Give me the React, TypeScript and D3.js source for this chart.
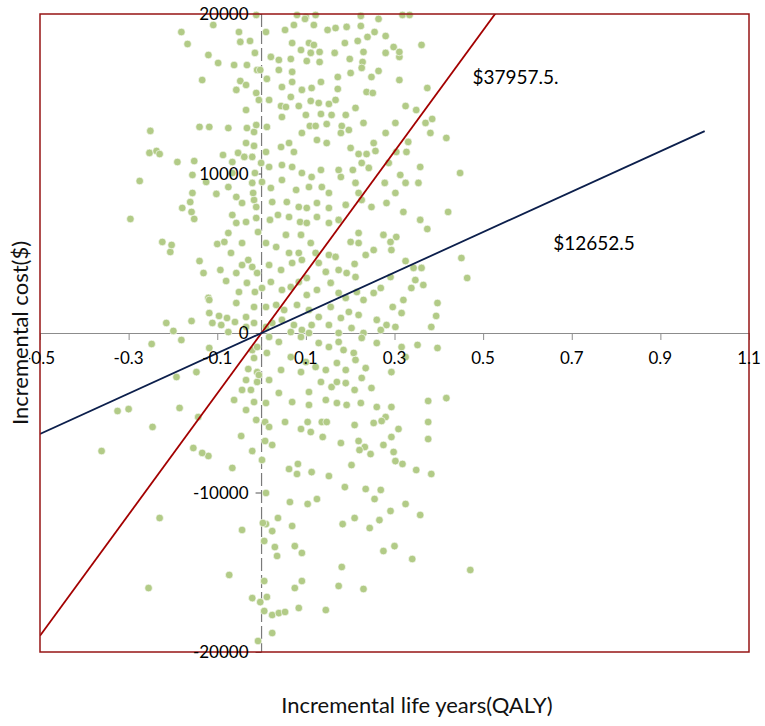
import { useEffect, useRef } from "react"
import * as d3 from "d3"

type Pt = [number, number] // [incremental QALY, incremental cost $]

const northEast: Pt[] = [
  [0.080, 19940], [0.100, 19810], [0.122, 19940], [0.224, 19880], [0.318, 19940], [0.334, 19940],
  [0.010, 18870], [0.053, 19000], [0.073, 19310], [0.098, 19690], [0.118, 19310], [0.149, 19000], [0.167, 19120],
  [0.192, 19190], [0.224, 19250], [0.264, 19690], [0.255, 18870], [0.239, 18560], [0.280, 18620],
  [0.021, 17310], [0.039, 17120], [0.066, 17180], [0.069, 18180], [0.089, 17740], [0.107, 18180], [0.118, 18060],
  [0.111, 17560], [0.102, 17050], [0.131, 17620], [0.131, 16990], [0.165, 17560], [0.188, 18180], [0.217, 18310],
  [0.230, 17620], [0.199, 17180], [0.228, 16990], [0.280, 17560], [0.298, 17930], [0.311, 17310], [0.361, 18060],
  [0.311, 17620],
  [0.012, 15930], [0.039, 16490], [0.069, 16370], [0.069, 15740], [0.046, 15420], [0.091, 15240], [0.113, 15360],
  [0.134, 15740], [0.172, 16050], [0.172, 15300], [0.201, 16300], [0.226, 16620], [0.248, 16050], [0.264, 16430],
  [0.311, 15860], [0.237, 15110], [0.251, 15050], [0.374, 15360],
  [0.017, 14610], [0.044, 14230], [0.066, 14800], [0.055, 14170], [0.084, 14230], [0.111, 14550], [0.129, 14420],
  [0.152, 14360], [0.167, 14610], [0.212, 14110], [0.158, 13670], [0.190, 13670], [0.325, 14230], [0.349, 13980],
  [0.012, 12920], [0.046, 13540], [0.100, 13670], [0.134, 13730], [0.109, 12980], [0.122, 12980], [0.147, 13100],
  [0.181, 12980], [0.197, 12730], [0.230, 13170], [0.302, 13170], [0.280, 12540], [0.370, 13170], [0.385, 13420],
  [0.381, 12540], [0.417, 12230],
  [0.010, 11350], [0.044, 11660], [0.062, 11910], [0.073, 11350], [0.091, 12540], [0.125, 12100], [0.147, 11910],
  [0.179, 12540], [0.201, 11600], [0.219, 11220], [0.237, 11220], [0.257, 11410], [0.253, 11910], [0.304, 11350],
  [0.327, 11350], [0.331, 11980], [0.358, 10410], [0.448, 10030],
  [0.017, 10410], [0.046, 10530], [0.069, 10410], [0.091, 10030], [0.113, 9780], [0.134, 10220], [0.174, 10220],
  [0.206, 10220], [0.226, 10660], [0.242, 10350], [0.287, 10660], [0.278, 9410], [0.313, 9910], [0.354, 9410],
  [0.325, 9410], [0.302, 8780],
  [0.001, 9470], [0.021, 9090], [0.046, 9590], [0.078, 8970], [0.107, 9150], [0.136, 9150], [0.152, 8780],
  [0.179, 9780], [0.212, 9410], [0.226, 8340], [0.248, 7900], [0.282, 8150], [0.320, 7590], [0.358, 7090],
  [0.421, 7590],
  [0.024, 8210], [0.057, 8210], [0.084, 7900], [0.102, 7840], [0.125, 8150], [0.152, 7840], [0.190, 8030],
  [0.219, 8780],
  [0.019, 7090], [0.037, 7400], [0.062, 7270], [0.087, 6960], [0.102, 6900], [0.125, 7270], [0.152, 6900],
  [0.174, 7090], [0.219, 6270], [0.201, 5710], [0.219, 5640], [0.275, 6150], [0.304, 6020], [0.374, 6520],
  [0.010, 5640], [0.033, 5390], [0.055, 6150], [0.062, 5020], [0.089, 6150], [0.084, 5020], [0.111, 5640],
  [0.122, 5020], [0.152, 4890], [0.167, 4770], [0.253, 5200], [0.235, 4890], [0.293, 5200], [0.291, 5710],
  [0.325, 4510], [0.451, 4700], [0.464, 3450],
  [0.017, 4260], [0.044, 3950], [0.069, 4390], [0.091, 4580], [0.102, 3450], [0.129, 4390], [0.145, 3830],
  [0.174, 3950], [0.192, 3760], [0.210, 4330], [0.212, 3510], [0.291, 3510], [0.343, 4080], [0.361, 4080],
  [0.347, 3320], [0.365, 3010], [0.338, 2820],
  [0.001, 2820], [0.021, 3200], [0.046, 2700], [0.066, 2880], [0.084, 3200], [0.102, 2380], [0.125, 2700],
  [0.156, 3140], [0.174, 2510], [0.190, 2200], [0.215, 2570], [0.230, 2070], [0.253, 2510], [0.269, 2820],
  [0.320, 2070], [0.397, 1880], [0.394, 1070],
  [0.010, 1630], [0.033, 1760], [0.051, 1440], [0.080, 1760], [0.107, 1440], [0.129, 1000], [0.156, 1630],
  [0.179, 940], [0.197, 1320], [0.219, 1130], [0.260, 820], [0.296, 1630], [0.316, 1250], [0.282, 500],
  [0.269, 190], [0.302, 380], [0.383, 380],
  [0.010, 380], [0.024, 630], [0.046, 820], [0.073, 500], [0.091, 190], [0.113, 500], [0.152, 500],
  [0.174, 0], [0.203, 310], [0.230, 0], [0.066, 60], [0.107, 0],
]

const northWest: Pt[] = [
  [-0.012, 19940], [-0.181, 18870], [-0.167, 18120], [-0.109, 19310], [-0.120, 17430], [-0.098, 16930],
  [-0.062, 16800], [-0.033, 16800], [-0.051, 18870], [-0.048, 18250], [-0.026, 18310], [-0.015, 17560],
  [-0.134, 15860], [-0.048, 15800], [-0.035, 15550], [-0.057, 15240], [-0.012, 15050], [-0.010, 16490],
  [-0.003, 16490], [-0.006, 14610], [-0.035, 13980], [-0.140, 12920], [-0.118, 12920], [-0.075, 12850],
  [-0.033, 12850], [-0.017, 12600], [-0.012, 13040], [-0.251, 12670], [-0.253, 11290], [-0.237, 11410],
  [-0.230, 11220], [-0.190, 10720], [-0.152, 10780], [-0.087, 11160], [-0.066, 10720], [-0.053, 11290],
  [-0.035, 11910], [-0.017, 11730], [-0.039, 11040], [-0.021, 11040], [-0.001, 10660], [-0.275, 9530],
  [-0.156, 9910], [-0.125, 9470], [-0.102, 8720], [-0.075, 9150], [-0.057, 8530], [-0.021, 9410],
  [-0.017, 8340], [-0.156, 8780], [-0.066, 10030], [-0.015, 10030], [-0.019, 8780],
  [-0.296, 7150], [-0.224, 5710], [-0.206, 5080], [-0.203, 5520], [-0.179, 7840], [-0.158, 7590],
  [-0.152, 7150], [-0.161, 8210], [-0.140, 4510], [-0.131, 3760], [-0.120, 2200], [-0.100, 5580],
  [-0.084, 5710], [-0.093, 3950], [-0.080, 3260], [-0.075, 6270], [-0.069, 5020], [-0.066, 7400],
  [-0.057, 6900], [-0.044, 5640], [-0.035, 6960], [-0.057, 3760], [-0.051, 2570], [-0.030, 4580],
  [-0.033, 3140], [-0.021, 4140], [-0.015, 2570], [-0.044, 8150], [-0.012, 7900], [-0.008, 6330],
  [-0.012, 7210], [-0.010, 3760], [-0.044, 4260], [-0.017, 1630],
  [-0.215, 630], [-0.158, 750], [-0.199, 130], [-0.118, 1250], [-0.096, 1070], [-0.078, 940],
  [-0.057, 1880], [-0.111, 630], [-0.091, 500], [-0.075, 60], [-0.060, 690], [-0.035, 1000],
  [-0.017, 630], [-0.035, 380], [-0.118, 2070],
]

const southEast: Pt[] = [
  [0.017, -250], [0.039, -560], [0.089, -250], [0.129, -630], [0.152, -880], [0.174, -560], [0.185, -1070],
  [0.208, -1250], [0.226, -310], [0.260, -630], [0.316, -880], [0.352, -750], [0.397, -940],
  [0.012, -1250], [0.044, -2320], [0.066, -1510], [0.089, -2450], [0.100, -1820], [0.122, -2130],
  [0.145, -2320], [0.170, -1880], [0.190, -2320], [0.212, -1690], [0.235, -2200], [0.293, -2450], [0.325, -1510],
  [0.017, -2950], [0.039, -3760], [0.107, -3700], [0.134, -3070], [0.158, -3390], [0.170, -3070],
  [0.190, -3140], [0.210, -3570], [0.226, -2820], [0.248, -3450],
  [0.010, -4390], [0.069, -4330], [0.107, -4510], [0.145, -4200], [0.170, -4390], [0.192, -4510],
  [0.224, -4390], [0.260, -4640], [0.293, -4640], [0.376, -4260], [0.417, -4080], [0.253, -5640], [0.280, -5270],
  [0.008, -5580], [0.017, -5890], [0.053, -5580], [0.089, -6020], [0.104, -5580], [0.111, -6210], [0.136, -5580],
  [0.138, -6520], [0.147, -5580], [0.179, -6900], [0.210, -5770], [0.219, -6770], [0.233, -7150], [0.246, -7590],
  [0.271, -5520], [0.275, -7020], [0.293, -6520], [0.309, -6020], [0.298, -7460], [0.302, -8030], [0.318, -8210],
  [0.349, -8590], [0.376, -5580], [0.376, -6650], [0.383, -8840],
  [0.008, -6770], [0.024, -7020], [0.001, -7960], [0.062, -8530], [0.082, -8210], [0.080, -8840], [0.113, -8720],
  [0.152, -8970], [0.203, -8280], [0.221, -7340], [0.188, -9660], [0.235, -9780], [0.269, -9840], [0.255, -10410],
  [0.010, -10030], [0.064, -10600], [0.104, -10720], [0.125, -10410], [0.037, -11600], [0.010, -11980],
  [0.024, -12420], [0.069, -12100], [0.183, -11980], [0.210, -11600], [0.244, -12230], [0.266, -11730],
  [0.291, -11160], [0.325, -10720], [0.358, -11410], [0.003, -11910],
  [0.006, -13040], [0.030, -13420], [0.035, -13980], [0.075, -13360], [0.091, -13790], [0.275, -13670],
  [0.300, -13360], [0.340, -14170], [0.181, -14670], [0.471, -14860],
  [0.006, -15550], [0.091, -15550], [0.075, -15990], [0.174, -15860], [0.230, -16050], [0.012, -16550],
  [0.006, -17430], [0.024, -17680], [0.039, -17560], [0.053, -17490], [0.084, -17240], [0.145, -17370],
  [0.024, -18810],
]

const southWest: Pt[] = [
  [-0.181, -440], [-0.248, -690], [-0.118, -940], [-0.147, -2450], [-0.192, -2760], [-0.185, -4700],
  [-0.300, -4770], [-0.325, -4890], [-0.246, -5890], [-0.361, -7400], [-0.154, -7210], [-0.120, -7710],
  [-0.134, -7520], [-0.066, -8460], [-0.062, -4200], [-0.035, -4830], [-0.046, -6460], [-0.030, -2260],
  [-0.035, -2950], [-0.044, -3570], [-0.024, -3570], [-0.010, -3070], [-0.010, -2450], [-0.017, -1570],
  [-0.021, -1070], [-0.010, -880], [-0.143, -5270], [-0.006, -2630], [-0.017, -4330],
  [-0.012, -5450], [-0.021, -7400], [-0.021, -16620], [-0.003, -16870], [-0.008, -19310],
  [-0.230, -11600], [-0.044, -12350], [-0.073, -15170], [-0.255, -15990],
]

const xTicks = [-0.5, -0.3, -0.1, 0.1, 0.3, 0.5, 0.7, 0.9, 1.1]
const yTicks = [20000, 10000, 0, -10000, -20000]

// willingness-to-pay ($ per QALY) lines through the origin
const wtpValues = [37957.5, 12652.5]
const wtpLabels = ["$37957.5.", "$12652.5"]
const wtpSpan = [-0.5, 1.0]

export default function App() {
  const svgRef = useRef<SVGSVGElement>(null)

  useEffect(() => {
    document.body.style.margin = "0"
    if (!svgRef.current) return

    const width = 765
    const height = 726
    const font = "Lato, sans-serif"

    const svg = d3.select(svgRef.current)
    svg.selectAll("*").remove()
    svg.attr("width", width).attr("height", height)

    const plot = { left: 40, right: 749, top: 14, bottom: 652 }

    const x = d3.scaleLinear().domain([-0.5, 1.1]).range([plot.left, plot.right])
    const y = d3.scaleLinear().domain([-20000, 20000]).range([plot.bottom, plot.top])

    const defs = svg.append("defs")
    defs
      .append("clipPath")
      .attr("id", "plot-clip")
      .append("rect")
      .attr("x", plot.left)
      .attr("y", plot.top)
      .attr("width", plot.right - plot.left)
      .attr("height", plot.bottom - plot.top)
    // left-most tick label is cut by the frame in the original
    defs
      .append("clipPath")
      .attr("id", "label-clip")
      .append("rect")
      .attr("x", 29)
      .attr("y", 0)
      .attr("width", width)
      .attr("height", height)

    // x axis (cost = 0)
    const xAxis = svg
      .append("g")
      .attr("transform", `translate(0,${y(0)})`)
      .call(d3.axisBottom(x).tickValues(xTicks).tickSize(7).tickSizeOuter(0).tickFormat(() => ""))
    xAxis.select(".domain").attr("stroke", "#8c8c8c")
    xAxis.selectAll(".tick line").attr("stroke", "#8c8c8c")

    // y axis (QALY = 0), dashed
    svg
      .append("line")
      .attr("x1", x(0))
      .attr("x2", x(0))
      .attr("y1", plot.top)
      .attr("y2", plot.bottom)
      .attr("stroke", "#7a7a7a")
      .attr("stroke-width", 1.2)
      .attr("stroke-dasharray", "13,4")
    const yAxis = svg
      .append("g")
      .attr("transform", `translate(${x(0)},0)`)
      .call(d3.axisLeft(y).tickValues(yTicks).tickSize(6).tickFormat(() => ""))
    yAxis.select(".domain").remove()
    yAxis.selectAll(".tick line").attr("stroke", "#555")

    // samples
    const samples = [...northEast, ...northWest, ...southEast, ...southWest]
    svg
      .append("g")
      .selectAll("circle")
      .data(samples)
      .join("circle")
      .attr("cx", (d) => x(d[0]))
      .attr("cy", (d) => y(d[1]))
      .attr("r", 3.8)
      .attr("fill", "#b2cb87")
      .attr("stroke", "#fff")
      .attr("stroke-width", 0.6)

    // WTP lines
    const lineColors = ["#a30000", "#0c1f4c"]
    const line = d3.line<number>().x((d) => x(d))
    svg
      .append("g")
      .attr("clip-path", "url(#plot-clip)")
      .selectAll("path")
      .data(wtpValues)
      .join("path")
      .attr("d", (k) => line.y((d) => y(d * k))(wtpSpan))
      .attr("fill", "none")
      .attr("stroke", (_, i) => lineColors[i])
      .attr("stroke-width", 1.8)

    // frame
    svg
      .append("rect")
      .attr("x", plot.left)
      .attr("y", plot.top)
      .attr("width", plot.right - plot.left)
      .attr("height", plot.bottom - plot.top)
      .attr("fill", "none")
      .attr("stroke", "#961414")
      .attr("stroke-width", 1.5)

    // tick labels
    svg
      .append("g")
      .attr("clip-path", "url(#label-clip)")
      .selectAll("text")
      .data(xTicks)
      .join("text")
      .attr("x", (d) => x(d))
      .attr("y", y(0) + 31)
      .attr("text-anchor", "middle")
      .attr("font-family", font)
      .attr("font-size", 17)
      .attr("fill", "#000")
      .text((d) => String(d))

    svg
      .append("g")
      .selectAll("text")
      .data(yTicks)
      .join("text")
      .attr("x", x(0) - 13)
      .attr("y", (d) => y(d))
      .attr("dy", "0.36em")
      .attr("text-anchor", "end")
      .attr("font-family", font)
      .attr("font-size", 17)
      .attr("fill", "#000")
      .text((d) => String(d))

    // WTP annotations
    const labelAt: [number, number][] = [
      [0.476, 15600],
      [0.658, 5200],
    ]
    svg
      .append("g")
      .selectAll("text")
      .data(wtpLabels)
      .join("text")
      .attr("x", (_, i) => x(labelAt[i][0]))
      .attr("y", (_, i) => y(labelAt[i][1]))
      .attr("font-family", font)
      .attr("font-size", 19)
      .attr("fill", "#000")
      .text((d) => d)

    // axis titles
    svg
      .append("text")
      .attr("x", 417)
      .attr("y", 713)
      .attr("text-anchor", "middle")
      .attr("font-family", font)
      .attr("font-size", 22)
      .attr("fill", "#111")
      .text("Incremental life years(QALY)")

    svg
      .append("text")
      .attr("transform", `translate(28,${(plot.top + plot.bottom) / 2}) rotate(-90)`)
      .attr("text-anchor", "middle")
      .attr("font-family", font)
      .attr("font-size", 22)
      .attr("fill", "#111")
      .text("Incremental cost($)")
  }, [])

  return <svg ref={svgRef} style={{ display: "block" }} />
}
